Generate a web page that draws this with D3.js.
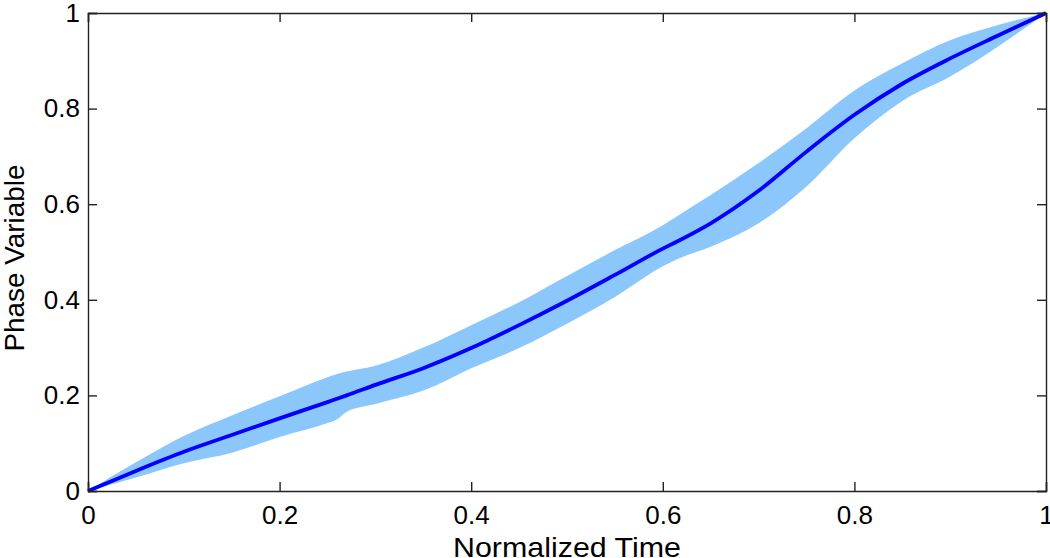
<!DOCTYPE html>
<html lang="en">
<head>
    <meta charset="UTF-8">
    <title>Phase Variable vs Normalized Time</title>
    <style>
        body {
            margin: 0;
            padding: 0;
            background-color: #ffffff;
        }
        svg {
            display: block;
            font-family: "Liberation Sans", Arial, sans-serif;
        }
        .tick-label {
            font-size: 26px;
            fill: #000;
        }
        .axis-label {
            font-size: 28px;
            text-anchor: middle;
            fill: #000;
        }
    </style>
</head>
<body>
    <svg width="1050" height="558"></svg>

    <script src="https://d3js.org/d3.v7.min.js"></script>
    <script>
        // Data
        const time  = [0, 0.05, 0.1, 0.15, 0.2, 0.25, 0.26, 0.27, 0.3, 0.35, 0.4, 0.45, 0.5, 0.55, 0.6, 0.615, 0.65, 0.7, 0.75, 0.8, 0.85, 0.9, 0.95, 1];
        const mean  = [0, 0.042, 0.082, 0.117, 0.152, 0.186, 0.193, 0.2, 0.222, 0.257, 0.299, 0.347, 0.398, 0.452, 0.507, 0.522, 0.56, 0.628, 0.71, 0.787, 0.852, 0.905, 0.953, 1];
        const upper = [0, 0.06, 0.115, 0.158, 0.198, 0.238, 0.245, 0.25, 0.262, 0.30, 0.347, 0.395, 0.45, 0.504, 0.556, 0.575, 0.619, 0.686, 0.759, 0.838, 0.895, 0.943, 0.975, 1];
        const lower = [0, 0.028, 0.058, 0.08, 0.113, 0.142, 0.15, 0.166, 0.182, 0.21, 0.257, 0.299, 0.35, 0.406, 0.47, 0.485, 0.511, 0.56, 0.637, 0.738, 0.816, 0.867, 0.93, 1];
        const xTicks = [0, 0.2, 0.4, 0.6, 0.8, 1];
        const yTicks = [0, 0.2, 0.4, 0.6, 0.8, 1];

        const svg = d3.select("svg");
        const margin = {top: 13, right: 4, bottom: 67, left: 88};
        const width = +svg.attr("width") - margin.left - margin.right;
        const height = +svg.attr("height") - margin.top - margin.bottom;

        const x = d3.scaleLinear().domain([0, 1]).range([margin.left, margin.left + width]);
        const y = d3.scaleLinear().domain([0, 1]).range([margin.top + height, margin.top]);

        const rows = time.map((t, i) => ({t: t, m: mean[i], hi: upper[i], lo: lower[i]}));

        // shaded band
        const area = d3.area()
            .x(d => x(d.t))
            .y0(d => y(d.lo))
            .y1(d => y(d.hi))
            .curve(d3.curveMonotoneX);

        svg.append("path")
            .datum(rows)
            .attr("d", area)
            .attr("fill", "#8cc7fc");

        // mean line
        const line = d3.line()
            .x(d => x(d.t))
            .y(d => y(d.m))
            .curve(d3.curveMonotoneX);

        svg.append("path")
            .datum(rows)
            .attr("d", line)
            .attr("fill", "none")
            .attr("stroke", "#0000ff")
            .attr("stroke-width", 3.8);

        // axes, ticks pointing inward on all four sides
        const tickLen = 9;
        svg.append("g")
            .attr("transform", `translate(0,${y(0)})`)
            .call(d3.axisBottom(x).tickValues(xTicks).tickSize(-tickLen).tickPadding(15)
                .tickFormat(d => d3.format("")(d)))
            .call(g => g.selectAll("text").attr("class", "tick-label").attr("font-size", null).attr("font-family", null));

        svg.append("g")
            .attr("transform", `translate(0,${y(1)})`)
            .call(d3.axisTop(x).tickValues(xTicks).tickSize(-tickLen).tickFormat(""));

        svg.append("g")
            .attr("transform", `translate(${x(0)},0)`)
            .call(d3.axisLeft(y).tickValues(yTicks).tickSize(-tickLen).tickPadding(8)
                .tickFormat(d => d3.format("")(d)))
            .call(g => g.selectAll("text").attr("class", "tick-label").attr("font-size", null).attr("font-family", null));

        svg.append("g")
            .attr("transform", `translate(${x(1)},0)`)
            .call(d3.axisRight(y).tickValues(yTicks).tickSize(-tickLen).tickFormat(""));

        svg.selectAll(".domain").attr("stroke", "#222").attr("stroke-width", 1.4);
        svg.selectAll(".tick line").attr("stroke", "#222").attr("stroke-width", 1.4);

        svg.append("text")
            .attr("class", "axis-label")
            .attr("x", x(0.5))
            .attr("y", 557)
            .attr("textLength", 228)
            .attr("lengthAdjust", "spacingAndGlyphs")
            .text("Normalized Time");

        svg.append("text")
            .attr("class", "axis-label")
            .attr("transform", `translate(24,${y(0.5) + 6}) rotate(-90)`)
            .attr("textLength", 187)
            .attr("lengthAdjust", "spacingAndGlyphs")
            .text("Phase Variable");
    </script>
</body>
</html>
